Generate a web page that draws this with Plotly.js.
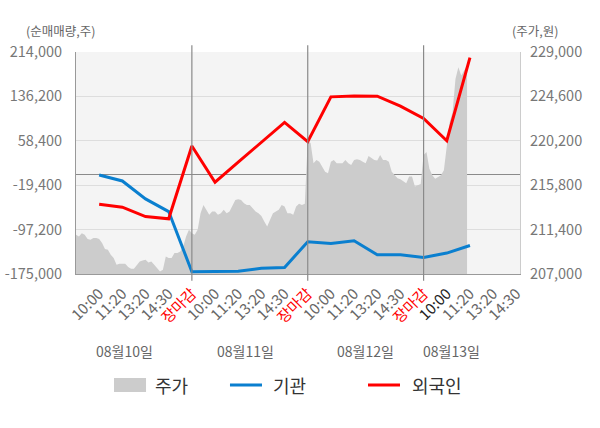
<!DOCTYPE html>
<html>
<head>
<meta charset="utf-8">
<script src="https://cdn.plot.ly/plotly-3.0.1.min.js"></script>
<style>
html,body{margin:0;padding:0;background:#fff;}
#chart{width:600px;height:428px;}
</style>
</head>
<body>
<div id="chart"></div>
<script>
// ---- data ----
var tickLabels = ["10:00","11:20","13:20","14:30","장마감","10:00","11:20","13:20","14:30","장마감","10:00","11:20","13:20","14:30","장마감","10:00","11:20","13:20","14:30"];
var dayLabels = ["08월10일","08월11일","08월12일","08월13일"];

// intraday price (원), one array per day
var priceDay1 = [210885,210720,211050,210890,210460,210390,210560,210560,210460,210060,209470,209400,208910,208580,207920,208020,208020,208020,207690,207520,207520,207920,208250,208350,208410,208150,208250,207920,207590,207260,207430,208740,208580,208580,209080,209080,209240,209730,210720,211380];
var priceDay2 = [211050,210885,211380,213030,213850,213355,212860,213190,213190,212860,213030,213355,213030,213190,213850,214340,214410,214340,214010,213850,213850,213520,213190,213030,212760,212200,211700,212370,213030,213190,213355,213850,213680,213030,213030,212860,213680,213950,213850,213950];
var priceDay3 = [220270,219950,217970,218300,218130,217640,217140,216980,218130,218300,217970,217970,217970,218300,217970,217800,218300,218370,218300,218130,217970,218690,218460,218300,218240,218790,218300,218300,218130,217140,216810,216490,216390,216150,215990,216650,216650,215660,215830,215930];
var priceDay4 = [218790,219090,217440,216780,216450,216620,216780,217280,219410,222050,223040,226330,227490,226670,227160,227660];

// net buying volume (주) at labelled times
var institution = [-1500,-12000,-43400,-65600,-171000,-171000,-170000,-165000,-163500,-118500,-121500,-116800,-141300,-141300,-146000,-138300,-125000];
var foreign = [-52700,-57900,-74300,-78300,49200,-14200,21000,56000,90630,56700,135400,137100,136600,119100,97600,58500,204200];

var leftTicks = [-175000,-97200,-19400,58400,136200,214000];
var rightTicks = [207000,211400,215800,220200,224600,229000];

// ---- build ----
var pointsPerDay = 40, slotsPerDay = 5;
var px = [], py = [];
[priceDay1, priceDay2, priceDay3, priceDay4].forEach(function (arr, d) {
  arr.forEach(function (v, k) {
    px.push(d * slotsPerDay + k * slotsPerDay / pointsPerDay);
    py.push(v);
  });
});
var lineX = institution.map(function (_, i) { return i + 1; });

function fmt(n) {
  var s = Math.abs(n).toString().replace(/\B(?=(\d{3})+(?!\d))/g, ",");
  return (n < 0 ? "-" : "") + s;
}
var tickVals = tickLabels.map(function (_, i) { return i + 1; });
var tickText = tickLabels.map(function (t, i) {
  if (t === "장마감") return '<span style="color:#ff0000">' + t + '</span>';
  if (i === 15) return '<span style="color:#222222">' + t + '</span>';
  return t;
});

var FONT = "'Noto Sans CJK KR', 'Noto Sans', sans-serif";

var traces = [
  {x: px, y: py, type: 'scatter', mode: 'lines', fill: 'tozeroy',
   fillcolor: '#cccccc', line: {width: 0, color: '#cccccc'}, yaxis: 'y', name: '주가', hoverinfo: 'skip'},
  {x: lineX, y: institution, type: 'scatter', mode: 'lines',
   line: {color: '#0a7fcf', width: 3}, yaxis: 'y2', name: '기관'},
  {x: lineX, y: foreign, type: 'scatter', mode: 'lines',
   line: {color: '#ff0000', width: 3}, yaxis: 'y2', name: '외국인'}
];

var shapes = [];
[5, 10, 15].forEach(function (xv) {
  shapes.push({type: 'line', xref: 'x', yref: 'paper', x0: xv, x1: xv, y0: -0.03, y1: 1.03,
    line: {color: '#8a8a8a', width: 1.2}, layer: 'above'});
});
// legend marks
shapes.push({type: 'rect', xref: 'paper', yref: 'paper', x0: 0.0856, x1: 0.1577, y0: -0.5315, y1: -0.4685,
  fillcolor: '#cccccc', line: {width: 0}});
shapes.push({type: 'line', xref: 'paper', yref: 'paper', x0: 0.3468, x1: 0.4189, y0: -0.5, y1: -0.5,
  line: {color: '#0a7fcf', width: 3}});
shapes.push({type: 'line', xref: 'paper', yref: 'paper', x0: 0.6577, x1: 0.7297, y0: -0.5, y1: -0.5,
  line: {color: '#ff0000', width: 3}});

var annotations = [
  {text: '(순매매량,주)', xref: 'paper', yref: 'paper', x: -0.034, y: 1.095, xanchor: 'center', yanchor: 'middle',
   showarrow: false, font: {family: FONT, size: 12.5, color: '#666'}},
  {text: '(주가,원)', xref: 'paper', yref: 'paper', x: 1.034, y: 1.095, xanchor: 'center', yanchor: 'middle',
   showarrow: false, font: {family: FONT, size: 12.5, color: '#666'}},
  {text: '주가', xref: 'paper', yref: 'paper', x: 0.1734, y: -0.5, xanchor: 'left', yanchor: 'middle',
   showarrow: false, font: {family: FONT, size: 18, color: '#333'}},
  {text: '기관', xref: 'paper', yref: 'paper', x: 0.4392, y: -0.5, xanchor: 'left', yanchor: 'middle',
   showarrow: false, font: {family: FONT, size: 18, color: '#333'}},
  {text: '외국인', xref: 'paper', yref: 'paper', x: 0.7523, y: -0.5, xanchor: 'left', yanchor: 'middle',
   showarrow: false, font: {family: FONT, size: 18, color: '#333'}}
];
var dayPos = [2.1, 7.3, 12.5, 16.2];
dayLabels.forEach(function (t, i) {
  annotations.push({text: t, xref: 'x', yref: 'paper', x: dayPos[i], y: -0.347, xanchor: 'center', yanchor: 'middle',
    showarrow: false, font: {family: FONT, size: 14, color: '#666'}});
});

var layout = {
  width: 600, height: 428,
  margin: {l: 76, r: 80, t: 52, b: 154, pad: 0},
  paper_bgcolor: '#ffffff',
  plot_bgcolor: '#f4f4f4',
  showlegend: false,
  font: {family: FONT, size: 13, color: '#666'},
  xaxis: {
    range: [0, 19.16], tickmode: 'array', tickvals: tickVals, ticktext: tickText,
    tickangle: -45, showgrid: false, zeroline: false, showline: true, linecolor: '#999', linewidth: 1,
    ticks: '', ticklabelstandoff: 4, tickfont: {family: FONT, size: 15, color: '#666'}, fixedrange: true
  },
  yaxis: {
    side: 'right', range: [207000, 229000], tickmode: 'array', tickvals: rightTicks,
    ticktext: rightTicks.map(fmt), showgrid: true, gridcolor: '#dddddd', gridwidth: 1,
    zeroline: false, showline: true, linecolor: '#cccccc', ticks: '', ticklabelstandoff: 6,
    layer: 'above traces', tickfont: {family: FONT, size: 14.5, color: '#777'}
  },
  yaxis2: {
    overlaying: 'y', side: 'left', range: [-175000, 214000], tickmode: 'array', tickvals: leftTicks,
    ticktext: leftTicks.map(fmt), showgrid: false, zeroline: true, zerolinecolor: '#8a8a8a', zerolinewidth: 1,
    showline: true, linecolor: '#999', ticks: '', ticklabelstandoff: 10,
    layer: 'above traces', tickfont: {family: FONT, size: 14.5, color: '#777'}
  },
  shapes: shapes,
  annotations: annotations
};

Plotly.newPlot('chart', traces, layout, {displayModeBar: false, staticPlot: true});
</script>
</body>
</html>
